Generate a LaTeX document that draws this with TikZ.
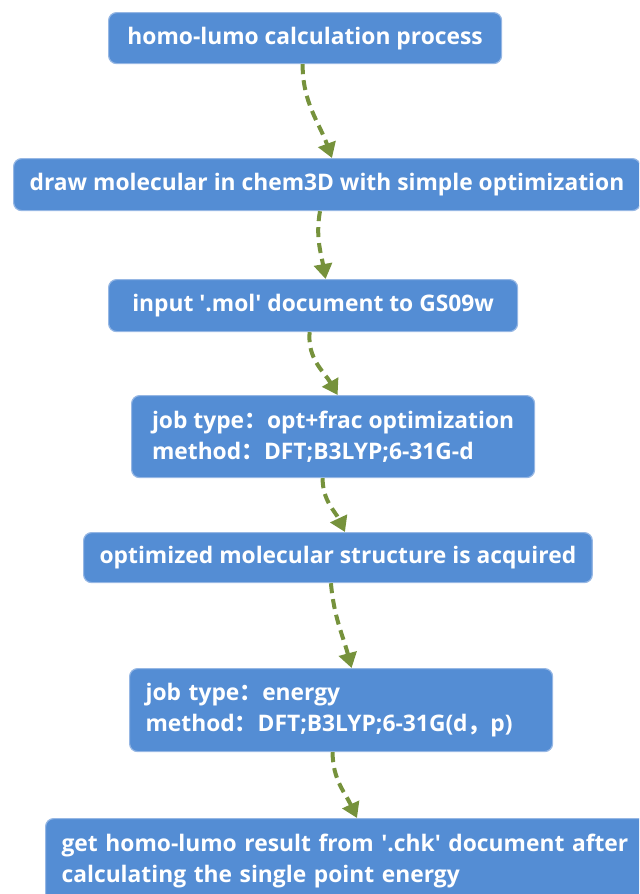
\documentclass[tikz,border=0pt]{standalone}
\usepackage{fontspec}
\setmainfont{Open Sans}[Ligatures=TeXOff]
\newfontfamily\cjk{Noto Sans CJK SC}
\usepackage{tikz}
\usetikzlibrary{arrows.meta,positioning}
\definecolor{boxblue}{RGB}{84,141,212}
\definecolor{boxline}{RGB}{150,183,228}
\definecolor{arrowgreen}{RGB}{118,146,60}

\begin{document}
\begin{tikzpicture}[x=0.5pt,y=0.5pt,
		box/.style={rectangle,rounded corners=4pt,fill=boxblue,draw=boxline,line width=0.6pt,
			text=white,font=\fontsize{11.4}{15.5}\selectfont\bfseries,align=left,
			inner xsep=8pt,anchor=north west},
		flow/.style={arrowgreen,line width=2pt,dash pattern=on 5pt off 3pt,
			-{Triangle[length=7.5pt,width=9pt]}}]
	\useasboundingbox (0,0) rectangle (639,-894);
	\clip (0,0) rectangle (639,-894);
	\begin{scope}
		\node(proc) [box,minimum width=196.5pt,minimum height=25.5pt] at (108,-12) {homo-lumo calculation process};
		\node(mol) [box,minimum width=312pt,minimum height=26pt] at (13,-158) {draw molecular in chem3D with simple optimization};
		\node(inp) [box,minimum width=204.5pt,minimum height=26pt] at (108,-279) {input '.mol' document to GS09w};
		\node(opt) [box,minimum width=201.5pt,minimum height=41pt] at (131,-395) {job type{\cjk ：}opt+frac optimization\\method{\cjk ：}DFT;B3LYP;6-31G-d};
		\node(acq) [box,minimum width=254pt,minimum height=25pt] at (83,-532) {optimized molecular structure is acquired};
		\node(en) [box,text width=195.5pt,minimum height=41.5pt] at (129,-668) {job type{\cjk ：}energy\\method{\cjk ：}DFT;B3LYP;6-31G(d{\cjk ，}p)};
		\node(res) [box,text width=285pt,minimum height=42pt] at (45,-818) {get homo-lumo result from '.chk' document after\\calculating the single point energy};
		\path[flow]
			([xshift=-1.25pt]proc.south) edge [out=-90,in=110] ([xshift=2.5pt]mol.north)
			([xshift=-3.5pt]mol.south) edge [out=-100,in=100] ([xshift=6.25pt]inp.north)
			([xshift=-1.75pt]inp.south) edge [out=-95,in=120] ([xshift=2.25pt]opt.north)
			([xshift=-5.25pt]opt.south) edge [out=-90,in=115] ([xshift=3.5pt]acq.north)
			([xshift=-3.5pt]acq.south) edge [out=-85,in=105] ([xshift=5.25pt]en.north)
			([xshift=-4.25pt]en.south) edge [out=-90,in=115] ([xshift=156pt]res.north west);
	\end{scope}
\end{tikzpicture}
\end{document}
